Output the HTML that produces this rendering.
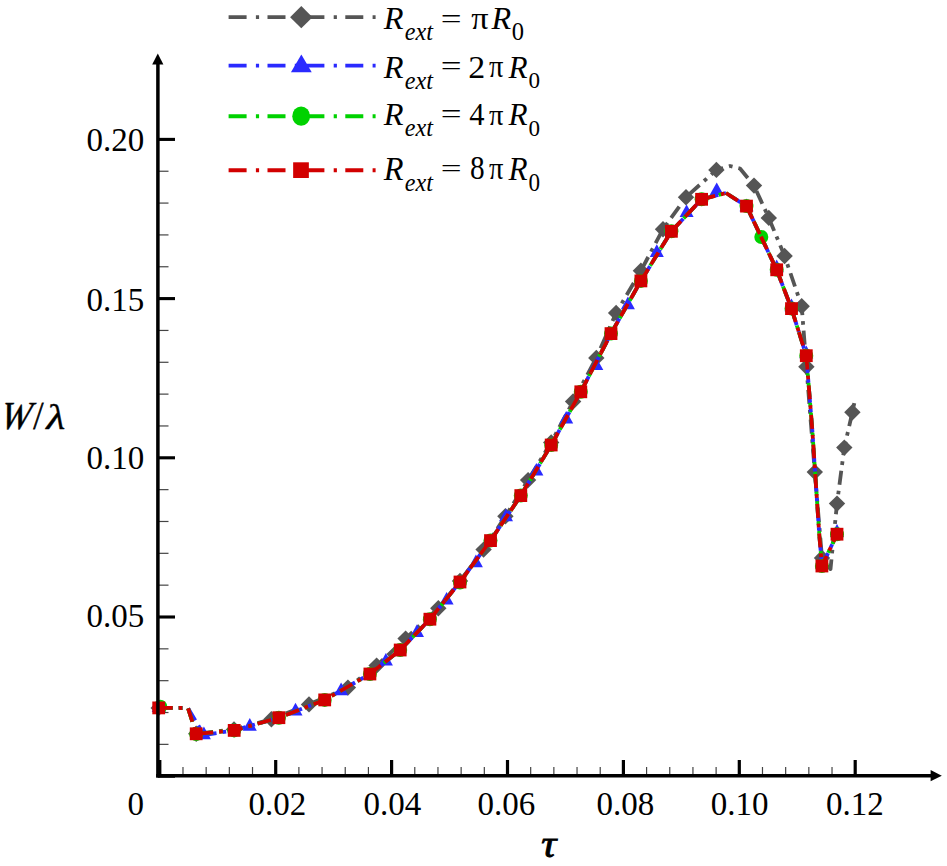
<!DOCTYPE html>
<html><head><meta charset="utf-8"><style>
html,body{margin:0;padding:0;background:#fff;}
body{width:947px;height:866px;overflow:hidden;}
svg{display:block;font-family:"Liberation Serif",serif;}
</style></head><body>
<svg width="947" height="866" viewBox="0 0 947 866">
<rect width="947" height="866" fill="#fff"/>
<g>
<line x1="157.9" y1="744.36" x2="168.5" y2="744.36" stroke="#444" stroke-width="1.2"/>
<line x1="157.9" y1="712.52" x2="168.5" y2="712.52" stroke="#444" stroke-width="1.2"/>
<line x1="157.9" y1="680.68" x2="168.5" y2="680.68" stroke="#444" stroke-width="1.2"/>
<line x1="157.9" y1="648.84" x2="168.5" y2="648.84" stroke="#444" stroke-width="1.2"/>
<line x1="157.9" y1="585.16" x2="168.5" y2="585.16" stroke="#444" stroke-width="1.2"/>
<line x1="157.9" y1="553.32" x2="168.5" y2="553.32" stroke="#444" stroke-width="1.2"/>
<line x1="157.9" y1="521.48" x2="168.5" y2="521.48" stroke="#444" stroke-width="1.2"/>
<line x1="157.9" y1="489.64" x2="168.5" y2="489.64" stroke="#444" stroke-width="1.2"/>
<line x1="157.9" y1="425.96" x2="168.5" y2="425.96" stroke="#444" stroke-width="1.2"/>
<line x1="157.9" y1="394.12" x2="168.5" y2="394.12" stroke="#444" stroke-width="1.2"/>
<line x1="157.9" y1="362.28" x2="168.5" y2="362.28" stroke="#444" stroke-width="1.2"/>
<line x1="157.9" y1="330.44" x2="168.5" y2="330.44" stroke="#444" stroke-width="1.2"/>
<line x1="157.9" y1="266.76" x2="168.5" y2="266.76" stroke="#444" stroke-width="1.2"/>
<line x1="157.9" y1="234.92" x2="168.5" y2="234.92" stroke="#444" stroke-width="1.2"/>
<line x1="157.9" y1="203.08" x2="168.5" y2="203.08" stroke="#444" stroke-width="1.2"/>
<line x1="157.9" y1="171.24" x2="168.5" y2="171.24" stroke="#444" stroke-width="1.2"/>
<line x1="157.9" y1="776.20" x2="175" y2="776.20" stroke="#000" stroke-width="3.1"/>
<line x1="157.9" y1="617.00" x2="175" y2="617.00" stroke="#000" stroke-width="3.1"/>
<line x1="157.9" y1="457.80" x2="175" y2="457.80" stroke="#000" stroke-width="3.1"/>
<line x1="157.9" y1="298.60" x2="175" y2="298.60" stroke="#000" stroke-width="3.1"/>
<line x1="157.9" y1="139.40" x2="175" y2="139.40" stroke="#000" stroke-width="3.1"/>
<line x1="182.98" y1="767" x2="182.98" y2="775.7" stroke="#444" stroke-width="1.2"/>
<line x1="206.16" y1="767" x2="206.16" y2="775.7" stroke="#444" stroke-width="1.2"/>
<line x1="229.34" y1="767" x2="229.34" y2="775.7" stroke="#444" stroke-width="1.2"/>
<line x1="252.52" y1="767" x2="252.52" y2="775.7" stroke="#444" stroke-width="1.2"/>
<line x1="298.88" y1="767" x2="298.88" y2="775.7" stroke="#444" stroke-width="1.2"/>
<line x1="322.06" y1="767" x2="322.06" y2="775.7" stroke="#444" stroke-width="1.2"/>
<line x1="345.24" y1="767" x2="345.24" y2="775.7" stroke="#444" stroke-width="1.2"/>
<line x1="368.42" y1="767" x2="368.42" y2="775.7" stroke="#444" stroke-width="1.2"/>
<line x1="414.78" y1="767" x2="414.78" y2="775.7" stroke="#444" stroke-width="1.2"/>
<line x1="437.96" y1="767" x2="437.96" y2="775.7" stroke="#444" stroke-width="1.2"/>
<line x1="461.14" y1="767" x2="461.14" y2="775.7" stroke="#444" stroke-width="1.2"/>
<line x1="484.32" y1="767" x2="484.32" y2="775.7" stroke="#444" stroke-width="1.2"/>
<line x1="530.68" y1="767" x2="530.68" y2="775.7" stroke="#444" stroke-width="1.2"/>
<line x1="553.86" y1="767" x2="553.86" y2="775.7" stroke="#444" stroke-width="1.2"/>
<line x1="577.04" y1="767" x2="577.04" y2="775.7" stroke="#444" stroke-width="1.2"/>
<line x1="600.22" y1="767" x2="600.22" y2="775.7" stroke="#444" stroke-width="1.2"/>
<line x1="646.58" y1="767" x2="646.58" y2="775.7" stroke="#444" stroke-width="1.2"/>
<line x1="669.76" y1="767" x2="669.76" y2="775.7" stroke="#444" stroke-width="1.2"/>
<line x1="692.94" y1="767" x2="692.94" y2="775.7" stroke="#444" stroke-width="1.2"/>
<line x1="716.12" y1="767" x2="716.12" y2="775.7" stroke="#444" stroke-width="1.2"/>
<line x1="762.48" y1="767" x2="762.48" y2="775.7" stroke="#444" stroke-width="1.2"/>
<line x1="785.66" y1="767" x2="785.66" y2="775.7" stroke="#444" stroke-width="1.2"/>
<line x1="808.84" y1="767" x2="808.84" y2="775.7" stroke="#444" stroke-width="1.2"/>
<line x1="832.02" y1="767" x2="832.02" y2="775.7" stroke="#444" stroke-width="1.2"/>
<line x1="159.80" y1="760" x2="159.80" y2="775.7" stroke="#000" stroke-width="3.2"/>
<line x1="275.70" y1="760" x2="275.70" y2="775.7" stroke="#000" stroke-width="3.2"/>
<line x1="391.60" y1="760" x2="391.60" y2="775.7" stroke="#000" stroke-width="3.2"/>
<line x1="507.50" y1="760" x2="507.50" y2="775.7" stroke="#000" stroke-width="3.2"/>
<line x1="623.40" y1="760" x2="623.40" y2="775.7" stroke="#000" stroke-width="3.2"/>
<line x1="739.30" y1="760" x2="739.30" y2="775.7" stroke="#000" stroke-width="3.2"/>
<line x1="855.20" y1="760" x2="855.20" y2="775.7" stroke="#000" stroke-width="3.2"/>
</g>
<g>
<polyline points="158.7,707.9 188.0,708.0 196.2,733.8 234.0,729.4 271.4,719.2 309.0,704.4 347.9,687.6 376.6,665.6 405.6,638.6" fill="none" stroke="#555555" stroke-width="3.8" stroke-dasharray="14 6 3.7 6" stroke-dashoffset="0.0" stroke-linejoin="round"/>
<polyline points="405.6,638.6 438.3,608.2 460.0,581.0 483.6,549.6 505.4,516.3 528.1,480.1 551.2,442.5 573.1,401.5 596.3,357.9 616.1,312.9 640.9,270.8 663.0,229.2 686.0,197.2 716.4,169.9 730.0,166.0 740.0,168.5 754.0,185.6 768.8,217.9 784.6,256.0 801.7,306.2 806.4,366.7 814.8,472.1 822.0,558.0 830.5,569.0 837.0,503.6 844.3,447.6 852.4,412.2 854.6,401.5" fill="none" stroke="#555555" stroke-width="3.8" stroke-dasharray="14 6 3.7 6" stroke-dashoffset="301.6" stroke-linejoin="round"/>
<polygon points="158.70,699.70 166.90,707.90 158.70,716.10 150.50,707.90" fill="#555555"/>
<polygon points="196.20,725.60 204.40,733.80 196.20,742.00 188.00,733.80" fill="#555555"/>
<polygon points="234.00,721.20 242.20,729.40 234.00,737.60 225.80,729.40" fill="#555555"/>
<polygon points="271.40,711.00 279.60,719.20 271.40,727.40 263.20,719.20" fill="#555555"/>
<polygon points="309.00,696.20 317.20,704.40 309.00,712.60 300.80,704.40" fill="#555555"/>
<polygon points="347.90,679.40 356.10,687.60 347.90,695.80 339.70,687.60" fill="#555555"/>
<polygon points="376.60,657.40 384.80,665.60 376.60,673.80 368.40,665.60" fill="#555555"/>
<polygon points="405.60,630.40 413.80,638.60 405.60,646.80 397.40,638.60" fill="#555555"/>
<polygon points="438.30,600.00 446.50,608.20 438.30,616.40 430.10,608.20" fill="#555555"/>
<polygon points="460.00,572.80 468.20,581.00 460.00,589.20 451.80,581.00" fill="#555555"/>
<polygon points="483.60,541.40 491.80,549.60 483.60,557.80 475.40,549.60" fill="#555555"/>
<polygon points="505.40,508.10 513.60,516.30 505.40,524.50 497.20,516.30" fill="#555555"/>
<polygon points="528.10,471.90 536.30,480.10 528.10,488.30 519.90,480.10" fill="#555555"/>
<polygon points="551.20,434.30 559.40,442.50 551.20,450.70 543.00,442.50" fill="#555555"/>
<polygon points="573.10,393.30 581.30,401.50 573.10,409.70 564.90,401.50" fill="#555555"/>
<polygon points="596.30,349.70 604.50,357.90 596.30,366.10 588.10,357.90" fill="#555555"/>
<polygon points="616.10,304.70 624.30,312.90 616.10,321.10 607.90,312.90" fill="#555555"/>
<polygon points="640.90,262.60 649.10,270.80 640.90,279.00 632.70,270.80" fill="#555555"/>
<polygon points="663.00,221.00 671.20,229.20 663.00,237.40 654.80,229.20" fill="#555555"/>
<polygon points="686.00,189.00 694.20,197.20 686.00,205.40 677.80,197.20" fill="#555555"/>
<polygon points="716.40,161.70 724.60,169.90 716.40,178.10 708.20,169.90" fill="#555555"/>
<polygon points="754.00,177.40 762.20,185.60 754.00,193.80 745.80,185.60" fill="#555555"/>
<polygon points="768.80,209.70 777.00,217.90 768.80,226.10 760.60,217.90" fill="#555555"/>
<polygon points="784.60,247.80 792.80,256.00 784.60,264.20 776.40,256.00" fill="#555555"/>
<polygon points="801.70,298.00 809.90,306.20 801.70,314.40 793.50,306.20" fill="#555555"/>
<polygon points="806.40,358.50 814.60,366.70 806.40,374.90 798.20,366.70" fill="#555555"/>
<polygon points="814.80,463.90 823.00,472.10 814.80,480.30 806.60,472.10" fill="#555555"/>
<polygon points="822.00,549.80 830.20,558.00 822.00,566.20 813.80,558.00" fill="#555555"/>
<polygon points="837.00,495.40 845.20,503.60 837.00,511.80 828.80,503.60" fill="#555555"/>
<polygon points="844.30,439.40 852.50,447.60 844.30,455.80 836.10,447.60" fill="#555555"/>
<polygon points="852.40,404.00 860.60,412.20 852.40,420.40 844.20,412.20" fill="#555555"/>
<line x1="158.70" y1="707.90" x2="188.00" y2="708.00" stroke="#2a2aff" stroke-width="3.8" stroke-dasharray="14 6 3.7 6" stroke-dashoffset="0.00"/>
<line x1="188.00" y1="708.00" x2="203.90" y2="735.00" stroke="#2a2aff" stroke-width="3.8" stroke-dasharray="14 6 3.7 6" stroke-dashoffset="29.30"/>
<line x1="203.90" y1="735.00" x2="234.20" y2="730.40" stroke="#2a2aff" stroke-width="3.8" stroke-dasharray="14 6 3.7 6" stroke-dashoffset="60.63"/>
<line x1="234.20" y1="730.40" x2="278.90" y2="717.70" stroke="#2a2aff" stroke-width="3.8" stroke-dasharray="14 6 3.7 6" stroke-dashoffset="91.28"/>
<line x1="278.90" y1="717.70" x2="324.70" y2="699.90" stroke="#2a2aff" stroke-width="3.8" stroke-dasharray="14 6 3.7 6" stroke-dashoffset="137.75"/>
<line x1="324.70" y1="699.90" x2="369.90" y2="674.00" stroke="#2a2aff" stroke-width="3.8" stroke-dasharray="14 6 3.7 6" stroke-dashoffset="186.89"/>
<line x1="369.90" y1="674.00" x2="385.05" y2="662.00" stroke="#2a2aff" stroke-width="3.8" stroke-dasharray="14 6 3.7 6" stroke-dashoffset="-3.30"/>
<line x1="385.05" y1="662.00" x2="400.20" y2="650.00" stroke="#2a2aff" stroke-width="3.8" stroke-dasharray="14 6 3.7 6" stroke-dashoffset="-3.30"/>
<line x1="400.20" y1="650.00" x2="415.05" y2="634.60" stroke="#2a2aff" stroke-width="3.8" stroke-dasharray="14 6 3.7 6" stroke-dashoffset="-3.30"/>
<line x1="415.05" y1="634.60" x2="429.90" y2="619.20" stroke="#2a2aff" stroke-width="3.8" stroke-dasharray="14 6 3.7 6" stroke-dashoffset="-3.30"/>
<line x1="429.90" y1="619.20" x2="444.95" y2="600.60" stroke="#2a2aff" stroke-width="3.8" stroke-dasharray="14 6 3.7 6" stroke-dashoffset="-3.30"/>
<line x1="444.95" y1="600.60" x2="460.00" y2="582.00" stroke="#2a2aff" stroke-width="3.8" stroke-dasharray="14 6 3.7 6" stroke-dashoffset="-3.30"/>
<line x1="460.00" y1="582.00" x2="470.17" y2="568.20" stroke="#2a2aff" stroke-width="3.8" stroke-dasharray="14 6 3.7 6" stroke-dashoffset="-3.30"/>
<line x1="470.17" y1="568.20" x2="480.33" y2="554.40" stroke="#2a2aff" stroke-width="3.8" stroke-dasharray="14 6 3.7 6" stroke-dashoffset="-3.30"/>
<line x1="480.33" y1="554.40" x2="490.50" y2="540.60" stroke="#2a2aff" stroke-width="3.8" stroke-dasharray="14 6 3.7 6" stroke-dashoffset="-3.30"/>
<line x1="490.50" y1="540.60" x2="500.60" y2="525.60" stroke="#2a2aff" stroke-width="3.8" stroke-dasharray="14 6 3.7 6" stroke-dashoffset="-3.30"/>
<line x1="500.60" y1="525.60" x2="510.70" y2="510.60" stroke="#2a2aff" stroke-width="3.8" stroke-dasharray="14 6 3.7 6" stroke-dashoffset="-3.30"/>
<line x1="510.70" y1="510.60" x2="520.80" y2="495.60" stroke="#2a2aff" stroke-width="3.8" stroke-dasharray="14 6 3.7 6" stroke-dashoffset="-3.30"/>
<line x1="520.80" y1="495.60" x2="530.93" y2="478.73" stroke="#2a2aff" stroke-width="3.8" stroke-dasharray="14 6 3.7 6" stroke-dashoffset="-3.30"/>
<line x1="530.93" y1="478.73" x2="541.07" y2="461.87" stroke="#2a2aff" stroke-width="3.8" stroke-dasharray="14 6 3.7 6" stroke-dashoffset="-3.30"/>
<line x1="541.07" y1="461.87" x2="551.20" y2="445.00" stroke="#2a2aff" stroke-width="3.8" stroke-dasharray="14 6 3.7 6" stroke-dashoffset="-3.30"/>
<line x1="551.20" y1="445.00" x2="561.07" y2="427.27" stroke="#2a2aff" stroke-width="3.8" stroke-dasharray="14 6 3.7 6" stroke-dashoffset="-3.30"/>
<line x1="561.07" y1="427.27" x2="570.93" y2="409.53" stroke="#2a2aff" stroke-width="3.8" stroke-dasharray="14 6 3.7 6" stroke-dashoffset="-3.30"/>
<line x1="570.93" y1="409.53" x2="580.80" y2="391.80" stroke="#2a2aff" stroke-width="3.8" stroke-dasharray="14 6 3.7 6" stroke-dashoffset="-3.30"/>
<line x1="580.80" y1="391.80" x2="590.87" y2="372.40" stroke="#2a2aff" stroke-width="3.8" stroke-dasharray="14 6 3.7 6" stroke-dashoffset="-3.30"/>
<line x1="590.87" y1="372.40" x2="600.93" y2="353.00" stroke="#2a2aff" stroke-width="3.8" stroke-dasharray="14 6 3.7 6" stroke-dashoffset="-3.30"/>
<line x1="600.93" y1="353.00" x2="611.00" y2="333.60" stroke="#2a2aff" stroke-width="3.8" stroke-dasharray="14 6 3.7 6" stroke-dashoffset="-3.30"/>
<line x1="611.00" y1="333.60" x2="620.97" y2="316.03" stroke="#2a2aff" stroke-width="3.8" stroke-dasharray="14 6 3.7 6" stroke-dashoffset="-3.30"/>
<line x1="620.97" y1="316.03" x2="630.93" y2="298.47" stroke="#2a2aff" stroke-width="3.8" stroke-dasharray="14 6 3.7 6" stroke-dashoffset="-3.30"/>
<line x1="630.93" y1="298.47" x2="640.90" y2="280.90" stroke="#2a2aff" stroke-width="3.8" stroke-dasharray="14 6 3.7 6" stroke-dashoffset="-3.30"/>
<line x1="640.90" y1="280.90" x2="651.07" y2="264.37" stroke="#2a2aff" stroke-width="3.8" stroke-dasharray="14 6 3.7 6" stroke-dashoffset="-3.30"/>
<line x1="651.07" y1="264.37" x2="661.23" y2="247.83" stroke="#2a2aff" stroke-width="3.8" stroke-dasharray="14 6 3.7 6" stroke-dashoffset="-3.30"/>
<line x1="661.23" y1="247.83" x2="671.40" y2="231.30" stroke="#2a2aff" stroke-width="3.8" stroke-dasharray="14 6 3.7 6" stroke-dashoffset="-3.30"/>
<line x1="671.40" y1="231.30" x2="686.50" y2="215.30" stroke="#2a2aff" stroke-width="3.8" stroke-dasharray="14 6 3.7 6" stroke-dashoffset="-3.30"/>
<line x1="686.50" y1="215.30" x2="701.60" y2="199.30" stroke="#2a2aff" stroke-width="3.8" stroke-dasharray="14 6 3.7 6" stroke-dashoffset="-3.30"/>
<line x1="701.60" y1="199.30" x2="726.00" y2="193.00" stroke="#2a2aff" stroke-width="3.8" stroke-dasharray="14 6 3.7 6" stroke-dashoffset="-3.30"/>
<line x1="726.00" y1="193.00" x2="746.50" y2="206.10" stroke="#2a2aff" stroke-width="3.8" stroke-dasharray="14 6 3.7 6" stroke-dashoffset="-3.30"/>
<line x1="746.50" y1="206.10" x2="753.75" y2="221.35" stroke="#2a2aff" stroke-width="3.8" stroke-dasharray="14 6 3.7 6" stroke-dashoffset="-3.30"/>
<line x1="753.75" y1="221.35" x2="761.00" y2="236.60" stroke="#2a2aff" stroke-width="3.8" stroke-dasharray="14 6 3.7 6" stroke-dashoffset="-3.30"/>
<line x1="761.00" y1="236.60" x2="768.85" y2="253.20" stroke="#2a2aff" stroke-width="3.8" stroke-dasharray="14 6 3.7 6" stroke-dashoffset="-3.30"/>
<line x1="768.85" y1="253.20" x2="776.70" y2="269.80" stroke="#2a2aff" stroke-width="3.8" stroke-dasharray="14 6 3.7 6" stroke-dashoffset="-3.30"/>
<line x1="776.70" y1="269.80" x2="784.10" y2="289.20" stroke="#2a2aff" stroke-width="3.8" stroke-dasharray="14 6 3.7 6" stroke-dashoffset="-3.30"/>
<line x1="784.10" y1="289.20" x2="791.50" y2="308.60" stroke="#2a2aff" stroke-width="3.8" stroke-dasharray="14 6 3.7 6" stroke-dashoffset="-3.30"/>
<line x1="791.50" y1="308.60" x2="798.90" y2="332.15" stroke="#2a2aff" stroke-width="3.8" stroke-dasharray="14 6 3.7 6" stroke-dashoffset="-3.30"/>
<line x1="798.90" y1="332.15" x2="806.30" y2="355.70" stroke="#2a2aff" stroke-width="3.8" stroke-dasharray="14 6 3.7 6" stroke-dashoffset="-3.30"/>
<line x1="806.30" y1="355.70" x2="812.30" y2="430.00" stroke="#2a2aff" stroke-width="3.8" stroke-dasharray="14 6 3.7 6" stroke-dashoffset="-3.30"/>
<line x1="812.30" y1="430.00" x2="815.10" y2="472.00" stroke="#2a2aff" stroke-width="3.8" stroke-dasharray="14 6 3.7 6" stroke-dashoffset="71.24"/>
<line x1="815.10" y1="472.00" x2="819.20" y2="533.50" stroke="#2a2aff" stroke-width="3.8" stroke-dasharray="14 6 3.7 6" stroke-dashoffset="113.34"/>
<line x1="819.20" y1="533.50" x2="821.90" y2="566.00" stroke="#2a2aff" stroke-width="3.8" stroke-dasharray="14 6 3.7 6" stroke-dashoffset="174.97"/>
<line x1="821.90" y1="566.00" x2="837.00" y2="534.20" stroke="#2a2aff" stroke-width="3.8" stroke-dasharray="14 6 3.7 6" stroke-dashoffset="207.58"/>
<polygon points="158.70,699.50 165.70,712.10 151.70,712.10" fill="#2a2aff"/>
<polygon points="203.90,726.60 210.90,739.20 196.90,739.20" fill="#2a2aff"/>
<polygon points="249.80,718.10 256.80,730.70 242.80,730.70" fill="#2a2aff"/>
<polygon points="295.50,702.80 302.50,715.40 288.50,715.40" fill="#2a2aff"/>
<polygon points="341.10,682.60 348.10,695.20 334.10,695.20" fill="#2a2aff"/>
<polygon points="385.90,653.00 392.90,665.60 378.90,665.60" fill="#2a2aff"/>
<polygon points="417.00,624.30 424.00,636.90 410.00,636.90" fill="#2a2aff"/>
<polygon points="446.60,592.00 453.60,604.60 439.60,604.60" fill="#2a2aff"/>
<polygon points="475.90,554.60 482.90,567.20 468.90,567.20" fill="#2a2aff"/>
<polygon points="506.00,508.60 513.00,521.20 499.00,521.20" fill="#2a2aff"/>
<polygon points="536.40,462.90 543.40,475.50 529.40,475.50" fill="#2a2aff"/>
<polygon points="566.20,411.00 573.20,423.60 559.20,423.60" fill="#2a2aff"/>
<polygon points="596.30,357.40 603.30,370.00 589.30,370.00" fill="#2a2aff"/>
<polygon points="627.90,296.60 634.90,309.20 620.90,309.20" fill="#2a2aff"/>
<polygon points="656.80,244.30 663.80,256.90 649.80,256.90" fill="#2a2aff"/>
<polygon points="686.60,204.40 693.60,217.00 679.60,217.00" fill="#2a2aff"/>
<polygon points="716.70,182.50 723.70,195.10 709.70,195.10" fill="#2a2aff"/>
<polygon points="746.50,198.60 753.50,211.20 739.50,211.20" fill="#2a2aff"/>
<polygon points="776.70,259.60 783.70,272.20 769.70,272.20" fill="#2a2aff"/>
<polygon points="791.50,298.60 798.50,311.20 784.50,311.20" fill="#2a2aff"/>
<polygon points="806.30,345.60 813.30,358.20 799.30,358.20" fill="#2a2aff"/>
<polygon points="821.90,555.60 828.90,568.20 814.90,568.20" fill="#2a2aff"/>
<polygon points="837.00,524.10 844.00,536.70 830.00,536.70" fill="#2a2aff"/>
<line x1="158.70" y1="707.90" x2="188.00" y2="708.00" stroke="#00d200" stroke-width="3.8" stroke-dasharray="14 6 3.7 6" stroke-dashoffset="0.00"/>
<line x1="188.00" y1="708.00" x2="196.20" y2="733.80" stroke="#00d200" stroke-width="3.8" stroke-dasharray="14 6 3.7 6" stroke-dashoffset="29.30"/>
<line x1="196.20" y1="733.80" x2="234.20" y2="730.40" stroke="#00d200" stroke-width="3.8" stroke-dasharray="14 6 3.7 6" stroke-dashoffset="56.37"/>
<line x1="234.20" y1="730.40" x2="278.90" y2="717.70" stroke="#00d200" stroke-width="3.8" stroke-dasharray="14 6 3.7 6" stroke-dashoffset="94.52"/>
<line x1="278.90" y1="717.70" x2="324.70" y2="699.90" stroke="#00d200" stroke-width="3.8" stroke-dasharray="14 6 3.7 6" stroke-dashoffset="140.99"/>
<line x1="324.70" y1="699.90" x2="369.90" y2="674.00" stroke="#00d200" stroke-width="3.8" stroke-dasharray="14 6 3.7 6" stroke-dashoffset="190.13"/>
<line x1="369.90" y1="674.00" x2="385.05" y2="662.00" stroke="#00d200" stroke-width="3.8" stroke-dasharray="14 6 3.7 6" stroke-dashoffset="2.30"/>
<line x1="385.05" y1="662.00" x2="400.20" y2="650.00" stroke="#00d200" stroke-width="3.8" stroke-dasharray="14 6 3.7 6" stroke-dashoffset="2.30"/>
<line x1="400.20" y1="650.00" x2="415.05" y2="634.60" stroke="#00d200" stroke-width="3.8" stroke-dasharray="14 6 3.7 6" stroke-dashoffset="2.30"/>
<line x1="415.05" y1="634.60" x2="429.90" y2="619.20" stroke="#00d200" stroke-width="3.8" stroke-dasharray="14 6 3.7 6" stroke-dashoffset="2.30"/>
<line x1="429.90" y1="619.20" x2="444.95" y2="600.60" stroke="#00d200" stroke-width="3.8" stroke-dasharray="14 6 3.7 6" stroke-dashoffset="2.30"/>
<line x1="444.95" y1="600.60" x2="460.00" y2="582.00" stroke="#00d200" stroke-width="3.8" stroke-dasharray="14 6 3.7 6" stroke-dashoffset="2.30"/>
<line x1="460.00" y1="582.00" x2="470.17" y2="568.20" stroke="#00d200" stroke-width="3.8" stroke-dasharray="14 6 3.7 6" stroke-dashoffset="2.30"/>
<line x1="470.17" y1="568.20" x2="480.33" y2="554.40" stroke="#00d200" stroke-width="3.8" stroke-dasharray="14 6 3.7 6" stroke-dashoffset="2.30"/>
<line x1="480.33" y1="554.40" x2="490.50" y2="540.60" stroke="#00d200" stroke-width="3.8" stroke-dasharray="14 6 3.7 6" stroke-dashoffset="2.30"/>
<line x1="490.50" y1="540.60" x2="500.60" y2="525.60" stroke="#00d200" stroke-width="3.8" stroke-dasharray="14 6 3.7 6" stroke-dashoffset="2.30"/>
<line x1="500.60" y1="525.60" x2="510.70" y2="510.60" stroke="#00d200" stroke-width="3.8" stroke-dasharray="14 6 3.7 6" stroke-dashoffset="2.30"/>
<line x1="510.70" y1="510.60" x2="520.80" y2="495.60" stroke="#00d200" stroke-width="3.8" stroke-dasharray="14 6 3.7 6" stroke-dashoffset="2.30"/>
<line x1="520.80" y1="495.60" x2="530.93" y2="478.73" stroke="#00d200" stroke-width="3.8" stroke-dasharray="14 6 3.7 6" stroke-dashoffset="2.30"/>
<line x1="530.93" y1="478.73" x2="541.07" y2="461.87" stroke="#00d200" stroke-width="3.8" stroke-dasharray="14 6 3.7 6" stroke-dashoffset="2.30"/>
<line x1="541.07" y1="461.87" x2="551.20" y2="445.00" stroke="#00d200" stroke-width="3.8" stroke-dasharray="14 6 3.7 6" stroke-dashoffset="2.30"/>
<line x1="551.20" y1="445.00" x2="561.07" y2="427.27" stroke="#00d200" stroke-width="3.8" stroke-dasharray="14 6 3.7 6" stroke-dashoffset="2.30"/>
<line x1="561.07" y1="427.27" x2="570.93" y2="409.53" stroke="#00d200" stroke-width="3.8" stroke-dasharray="14 6 3.7 6" stroke-dashoffset="2.30"/>
<line x1="570.93" y1="409.53" x2="580.80" y2="391.80" stroke="#00d200" stroke-width="3.8" stroke-dasharray="14 6 3.7 6" stroke-dashoffset="2.30"/>
<line x1="580.80" y1="391.80" x2="590.87" y2="372.40" stroke="#00d200" stroke-width="3.8" stroke-dasharray="14 6 3.7 6" stroke-dashoffset="2.30"/>
<line x1="590.87" y1="372.40" x2="600.93" y2="353.00" stroke="#00d200" stroke-width="3.8" stroke-dasharray="14 6 3.7 6" stroke-dashoffset="2.30"/>
<line x1="600.93" y1="353.00" x2="611.00" y2="333.60" stroke="#00d200" stroke-width="3.8" stroke-dasharray="14 6 3.7 6" stroke-dashoffset="2.30"/>
<line x1="611.00" y1="333.60" x2="620.97" y2="316.03" stroke="#00d200" stroke-width="3.8" stroke-dasharray="14 6 3.7 6" stroke-dashoffset="2.30"/>
<line x1="620.97" y1="316.03" x2="630.93" y2="298.47" stroke="#00d200" stroke-width="3.8" stroke-dasharray="14 6 3.7 6" stroke-dashoffset="2.30"/>
<line x1="630.93" y1="298.47" x2="640.90" y2="280.90" stroke="#00d200" stroke-width="3.8" stroke-dasharray="14 6 3.7 6" stroke-dashoffset="2.30"/>
<line x1="640.90" y1="280.90" x2="651.07" y2="264.37" stroke="#00d200" stroke-width="3.8" stroke-dasharray="14 6 3.7 6" stroke-dashoffset="2.30"/>
<line x1="651.07" y1="264.37" x2="661.23" y2="247.83" stroke="#00d200" stroke-width="3.8" stroke-dasharray="14 6 3.7 6" stroke-dashoffset="2.30"/>
<line x1="661.23" y1="247.83" x2="671.40" y2="231.30" stroke="#00d200" stroke-width="3.8" stroke-dasharray="14 6 3.7 6" stroke-dashoffset="2.30"/>
<line x1="671.40" y1="231.30" x2="686.50" y2="215.30" stroke="#00d200" stroke-width="3.8" stroke-dasharray="14 6 3.7 6" stroke-dashoffset="2.30"/>
<line x1="686.50" y1="215.30" x2="701.60" y2="199.30" stroke="#00d200" stroke-width="3.8" stroke-dasharray="14 6 3.7 6" stroke-dashoffset="2.30"/>
<line x1="701.60" y1="199.30" x2="726.00" y2="193.00" stroke="#00d200" stroke-width="3.8" stroke-dasharray="14 6 3.7 6" stroke-dashoffset="2.30"/>
<line x1="726.00" y1="193.00" x2="746.50" y2="206.10" stroke="#00d200" stroke-width="3.8" stroke-dasharray="14 6 3.7 6" stroke-dashoffset="2.30"/>
<line x1="746.50" y1="206.10" x2="753.75" y2="221.35" stroke="#00d200" stroke-width="3.8" stroke-dasharray="14 6 3.7 6" stroke-dashoffset="2.30"/>
<line x1="753.75" y1="221.35" x2="761.00" y2="236.60" stroke="#00d200" stroke-width="3.8" stroke-dasharray="14 6 3.7 6" stroke-dashoffset="2.30"/>
<line x1="761.00" y1="236.60" x2="768.85" y2="253.20" stroke="#00d200" stroke-width="3.8" stroke-dasharray="14 6 3.7 6" stroke-dashoffset="2.30"/>
<line x1="768.85" y1="253.20" x2="776.70" y2="269.80" stroke="#00d200" stroke-width="3.8" stroke-dasharray="14 6 3.7 6" stroke-dashoffset="2.30"/>
<line x1="776.70" y1="269.80" x2="784.10" y2="289.20" stroke="#00d200" stroke-width="3.8" stroke-dasharray="14 6 3.7 6" stroke-dashoffset="2.30"/>
<line x1="784.10" y1="289.20" x2="791.50" y2="308.60" stroke="#00d200" stroke-width="3.8" stroke-dasharray="14 6 3.7 6" stroke-dashoffset="2.30"/>
<line x1="791.50" y1="308.60" x2="798.90" y2="332.15" stroke="#00d200" stroke-width="3.8" stroke-dasharray="14 6 3.7 6" stroke-dashoffset="2.30"/>
<line x1="798.90" y1="332.15" x2="806.30" y2="355.70" stroke="#00d200" stroke-width="3.8" stroke-dasharray="14 6 3.7 6" stroke-dashoffset="2.30"/>
<line x1="806.30" y1="355.70" x2="812.30" y2="430.00" stroke="#00d200" stroke-width="3.8" stroke-dasharray="14 6 3.7 6" stroke-dashoffset="2.30"/>
<line x1="812.30" y1="430.00" x2="815.10" y2="472.00" stroke="#00d200" stroke-width="3.8" stroke-dasharray="14 6 3.7 6" stroke-dashoffset="76.84"/>
<line x1="815.10" y1="472.00" x2="819.20" y2="533.50" stroke="#00d200" stroke-width="3.8" stroke-dasharray="14 6 3.7 6" stroke-dashoffset="118.94"/>
<line x1="819.20" y1="533.50" x2="821.90" y2="566.00" stroke="#00d200" stroke-width="3.8" stroke-dasharray="14 6 3.7 6" stroke-dashoffset="180.57"/>
<line x1="821.90" y1="566.00" x2="837.00" y2="534.20" stroke="#00d200" stroke-width="3.8" stroke-dasharray="14 6 3.7 6" stroke-dashoffset="213.18"/>
<circle cx="160.30" cy="706.80" r="7.00" fill="#00d200"/>
<circle cx="196.20" cy="734.00" r="7.00" fill="#00d200"/>
<circle cx="234.20" cy="730.40" r="7.00" fill="#00d200"/>
<circle cx="278.90" cy="717.70" r="7.00" fill="#00d200"/>
<circle cx="324.70" cy="699.90" r="7.00" fill="#00d200"/>
<circle cx="369.90" cy="674.00" r="7.00" fill="#00d200"/>
<circle cx="400.20" cy="650.00" r="7.00" fill="#00d200"/>
<circle cx="429.90" cy="619.20" r="7.00" fill="#00d200"/>
<circle cx="460.00" cy="582.50" r="7.00" fill="#00d200"/>
<circle cx="490.50" cy="540.60" r="7.00" fill="#00d200"/>
<circle cx="520.80" cy="495.60" r="7.00" fill="#00d200"/>
<circle cx="551.20" cy="445.00" r="7.00" fill="#00d200"/>
<circle cx="580.80" cy="391.80" r="7.00" fill="#00d200"/>
<circle cx="611.00" cy="333.60" r="7.00" fill="#00d200"/>
<circle cx="640.90" cy="280.90" r="7.00" fill="#00d200"/>
<circle cx="671.40" cy="231.30" r="7.00" fill="#00d200"/>
<circle cx="701.60" cy="199.30" r="7.00" fill="#00d200"/>
<circle cx="746.50" cy="206.10" r="7.00" fill="#00d200"/>
<circle cx="761.30" cy="237.00" r="7.00" fill="#00d200"/>
<circle cx="776.70" cy="269.80" r="7.00" fill="#00d200"/>
<circle cx="791.50" cy="308.60" r="7.00" fill="#00d200"/>
<circle cx="806.30" cy="355.70" r="7.00" fill="#00d200"/>
<circle cx="821.90" cy="566.00" r="7.00" fill="#00d200"/>
<circle cx="837.00" cy="534.20" r="7.00" fill="#00d200"/>
<line x1="158.70" y1="707.90" x2="188.00" y2="708.00" stroke="#d20000" stroke-width="3.8" stroke-dasharray="14 6 3.7 6" stroke-dashoffset="0.00"/>
<line x1="188.00" y1="708.00" x2="196.20" y2="733.80" stroke="#d20000" stroke-width="3.8" stroke-dasharray="14 6 3.7 6" stroke-dashoffset="29.30"/>
<line x1="196.20" y1="733.80" x2="234.20" y2="730.40" stroke="#d20000" stroke-width="3.8" stroke-dasharray="14 6 3.7 6" stroke-dashoffset="56.37"/>
<line x1="234.20" y1="730.40" x2="278.90" y2="717.70" stroke="#d20000" stroke-width="3.8" stroke-dasharray="14 6 3.7 6" stroke-dashoffset="94.52"/>
<line x1="278.90" y1="717.70" x2="324.70" y2="699.90" stroke="#d20000" stroke-width="3.8" stroke-dasharray="14 6 3.7 6" stroke-dashoffset="140.99"/>
<line x1="324.70" y1="699.90" x2="369.90" y2="674.00" stroke="#d20000" stroke-width="3.8" stroke-dasharray="14 6 3.7 6" stroke-dashoffset="190.13"/>
<line x1="369.90" y1="674.00" x2="385.05" y2="662.00" stroke="#d20000" stroke-width="3.8" stroke-dasharray="14 6 3.7 6" stroke-dashoffset="0.00"/>
<line x1="385.05" y1="662.00" x2="400.20" y2="650.00" stroke="#d20000" stroke-width="3.8" stroke-dasharray="14 6 3.7 6" stroke-dashoffset="0.00"/>
<line x1="400.20" y1="650.00" x2="415.05" y2="634.60" stroke="#d20000" stroke-width="3.8" stroke-dasharray="14 6 3.7 6" stroke-dashoffset="0.00"/>
<line x1="415.05" y1="634.60" x2="429.90" y2="619.20" stroke="#d20000" stroke-width="3.8" stroke-dasharray="14 6 3.7 6" stroke-dashoffset="0.00"/>
<line x1="429.90" y1="619.20" x2="444.95" y2="600.60" stroke="#d20000" stroke-width="3.8" stroke-dasharray="14 6 3.7 6" stroke-dashoffset="0.00"/>
<line x1="444.95" y1="600.60" x2="460.00" y2="582.00" stroke="#d20000" stroke-width="3.8" stroke-dasharray="14 6 3.7 6" stroke-dashoffset="0.00"/>
<line x1="460.00" y1="582.00" x2="470.17" y2="568.20" stroke="#d20000" stroke-width="3.8" stroke-dasharray="14 6 3.7 6" stroke-dashoffset="0.00"/>
<line x1="470.17" y1="568.20" x2="480.33" y2="554.40" stroke="#d20000" stroke-width="3.8" stroke-dasharray="14 6 3.7 6" stroke-dashoffset="0.00"/>
<line x1="480.33" y1="554.40" x2="490.50" y2="540.60" stroke="#d20000" stroke-width="3.8" stroke-dasharray="14 6 3.7 6" stroke-dashoffset="0.00"/>
<line x1="490.50" y1="540.60" x2="500.60" y2="525.60" stroke="#d20000" stroke-width="3.8" stroke-dasharray="14 6 3.7 6" stroke-dashoffset="0.00"/>
<line x1="500.60" y1="525.60" x2="510.70" y2="510.60" stroke="#d20000" stroke-width="3.8" stroke-dasharray="14 6 3.7 6" stroke-dashoffset="0.00"/>
<line x1="510.70" y1="510.60" x2="520.80" y2="495.60" stroke="#d20000" stroke-width="3.8" stroke-dasharray="14 6 3.7 6" stroke-dashoffset="0.00"/>
<line x1="520.80" y1="495.60" x2="530.93" y2="478.73" stroke="#d20000" stroke-width="3.8" stroke-dasharray="14 6 3.7 6" stroke-dashoffset="0.00"/>
<line x1="530.93" y1="478.73" x2="541.07" y2="461.87" stroke="#d20000" stroke-width="3.8" stroke-dasharray="14 6 3.7 6" stroke-dashoffset="0.00"/>
<line x1="541.07" y1="461.87" x2="551.20" y2="445.00" stroke="#d20000" stroke-width="3.8" stroke-dasharray="14 6 3.7 6" stroke-dashoffset="0.00"/>
<line x1="551.20" y1="445.00" x2="561.07" y2="427.27" stroke="#d20000" stroke-width="3.8" stroke-dasharray="14 6 3.7 6" stroke-dashoffset="0.00"/>
<line x1="561.07" y1="427.27" x2="570.93" y2="409.53" stroke="#d20000" stroke-width="3.8" stroke-dasharray="14 6 3.7 6" stroke-dashoffset="0.00"/>
<line x1="570.93" y1="409.53" x2="580.80" y2="391.80" stroke="#d20000" stroke-width="3.8" stroke-dasharray="14 6 3.7 6" stroke-dashoffset="0.00"/>
<line x1="580.80" y1="391.80" x2="590.87" y2="372.40" stroke="#d20000" stroke-width="3.8" stroke-dasharray="14 6 3.7 6" stroke-dashoffset="0.00"/>
<line x1="590.87" y1="372.40" x2="600.93" y2="353.00" stroke="#d20000" stroke-width="3.8" stroke-dasharray="14 6 3.7 6" stroke-dashoffset="0.00"/>
<line x1="600.93" y1="353.00" x2="611.00" y2="333.60" stroke="#d20000" stroke-width="3.8" stroke-dasharray="14 6 3.7 6" stroke-dashoffset="0.00"/>
<line x1="611.00" y1="333.60" x2="620.97" y2="316.03" stroke="#d20000" stroke-width="3.8" stroke-dasharray="14 6 3.7 6" stroke-dashoffset="0.00"/>
<line x1="620.97" y1="316.03" x2="630.93" y2="298.47" stroke="#d20000" stroke-width="3.8" stroke-dasharray="14 6 3.7 6" stroke-dashoffset="0.00"/>
<line x1="630.93" y1="298.47" x2="640.90" y2="280.90" stroke="#d20000" stroke-width="3.8" stroke-dasharray="14 6 3.7 6" stroke-dashoffset="0.00"/>
<line x1="640.90" y1="280.90" x2="651.07" y2="264.37" stroke="#d20000" stroke-width="3.8" stroke-dasharray="14 6 3.7 6" stroke-dashoffset="0.00"/>
<line x1="651.07" y1="264.37" x2="661.23" y2="247.83" stroke="#d20000" stroke-width="3.8" stroke-dasharray="14 6 3.7 6" stroke-dashoffset="0.00"/>
<line x1="661.23" y1="247.83" x2="671.40" y2="231.30" stroke="#d20000" stroke-width="3.8" stroke-dasharray="14 6 3.7 6" stroke-dashoffset="0.00"/>
<line x1="671.40" y1="231.30" x2="686.50" y2="215.30" stroke="#d20000" stroke-width="3.8" stroke-dasharray="14 6 3.7 6" stroke-dashoffset="0.00"/>
<line x1="686.50" y1="215.30" x2="701.60" y2="199.30" stroke="#d20000" stroke-width="3.8" stroke-dasharray="14 6 3.7 6" stroke-dashoffset="0.00"/>
<line x1="701.60" y1="199.30" x2="726.00" y2="193.00" stroke="#d20000" stroke-width="3.8" stroke-dasharray="14 6 3.7 6" stroke-dashoffset="0.00"/>
<line x1="726.00" y1="193.00" x2="746.50" y2="206.10" stroke="#d20000" stroke-width="3.8" stroke-dasharray="14 6 3.7 6" stroke-dashoffset="0.00"/>
<line x1="746.50" y1="206.10" x2="753.75" y2="221.35" stroke="#d20000" stroke-width="3.8" stroke-dasharray="14 6 3.7 6" stroke-dashoffset="0.00"/>
<line x1="753.75" y1="221.35" x2="761.00" y2="236.60" stroke="#d20000" stroke-width="3.8" stroke-dasharray="14 6 3.7 6" stroke-dashoffset="0.00"/>
<line x1="761.00" y1="236.60" x2="768.85" y2="253.20" stroke="#d20000" stroke-width="3.8" stroke-dasharray="14 6 3.7 6" stroke-dashoffset="0.00"/>
<line x1="768.85" y1="253.20" x2="776.70" y2="269.80" stroke="#d20000" stroke-width="3.8" stroke-dasharray="14 6 3.7 6" stroke-dashoffset="0.00"/>
<line x1="776.70" y1="269.80" x2="784.10" y2="289.20" stroke="#d20000" stroke-width="3.8" stroke-dasharray="14 6 3.7 6" stroke-dashoffset="0.00"/>
<line x1="784.10" y1="289.20" x2="791.50" y2="308.60" stroke="#d20000" stroke-width="3.8" stroke-dasharray="14 6 3.7 6" stroke-dashoffset="0.00"/>
<line x1="791.50" y1="308.60" x2="798.90" y2="332.15" stroke="#d20000" stroke-width="3.8" stroke-dasharray="14 6 3.7 6" stroke-dashoffset="0.00"/>
<line x1="798.90" y1="332.15" x2="806.30" y2="355.70" stroke="#d20000" stroke-width="3.8" stroke-dasharray="14 6 3.7 6" stroke-dashoffset="0.00"/>
<line x1="806.30" y1="355.70" x2="812.30" y2="430.00" stroke="#d20000" stroke-width="3.8" stroke-dasharray="14 6 3.7 6" stroke-dashoffset="0.00"/>
<line x1="812.30" y1="430.00" x2="815.10" y2="472.00" stroke="#d20000" stroke-width="3.8" stroke-dasharray="14 6 3.7 6" stroke-dashoffset="74.54"/>
<line x1="815.10" y1="472.00" x2="819.20" y2="533.50" stroke="#d20000" stroke-width="3.8" stroke-dasharray="14 6 3.7 6" stroke-dashoffset="116.64"/>
<line x1="819.20" y1="533.50" x2="821.90" y2="566.00" stroke="#d20000" stroke-width="3.8" stroke-dasharray="14 6 3.7 6" stroke-dashoffset="178.27"/>
<line x1="821.90" y1="566.00" x2="837.00" y2="534.20" stroke="#d20000" stroke-width="3.8" stroke-dasharray="14 6 3.7 6" stroke-dashoffset="210.88"/>
<rect x="152.30" y="701.50" width="12.80" height="12.80" fill="#d20000"/>
<rect x="189.80" y="727.40" width="12.80" height="12.80" fill="#d20000"/>
<rect x="227.80" y="724.00" width="12.80" height="12.80" fill="#d20000"/>
<rect x="272.50" y="711.30" width="12.80" height="12.80" fill="#d20000"/>
<rect x="318.30" y="693.50" width="12.80" height="12.80" fill="#d20000"/>
<rect x="363.50" y="667.60" width="12.80" height="12.80" fill="#d20000"/>
<rect x="393.80" y="643.60" width="12.80" height="12.80" fill="#d20000"/>
<rect x="423.50" y="612.80" width="12.80" height="12.80" fill="#d20000"/>
<rect x="453.60" y="575.60" width="12.80" height="12.80" fill="#d20000"/>
<rect x="484.10" y="534.20" width="12.80" height="12.80" fill="#d20000"/>
<rect x="514.40" y="489.20" width="12.80" height="12.80" fill="#d20000"/>
<rect x="544.80" y="438.60" width="12.80" height="12.80" fill="#d20000"/>
<rect x="574.40" y="385.40" width="12.80" height="12.80" fill="#d20000"/>
<rect x="604.60" y="327.20" width="12.80" height="12.80" fill="#d20000"/>
<rect x="634.50" y="274.50" width="12.80" height="12.80" fill="#d20000"/>
<rect x="665.00" y="224.90" width="12.80" height="12.80" fill="#d20000"/>
<rect x="695.20" y="192.90" width="12.80" height="12.80" fill="#d20000"/>
<rect x="740.10" y="199.70" width="12.80" height="12.80" fill="#d20000"/>
<rect x="770.30" y="263.40" width="12.80" height="12.80" fill="#d20000"/>
<rect x="785.10" y="302.20" width="12.80" height="12.80" fill="#d20000"/>
<rect x="799.90" y="349.30" width="12.80" height="12.80" fill="#d20000"/>
<rect x="815.50" y="559.60" width="12.80" height="12.80" fill="#d20000"/>
<rect x="830.60" y="527.80" width="12.80" height="12.80" fill="#d20000"/>
</g>
<g>
<line x1="157.9" y1="63" x2="157.9" y2="777.4" stroke="#000" stroke-width="3.5"/>
<polygon points="157.8,53.6 152.2,64.6 163.4,64.6" fill="#000"/>
<line x1="156.2" y1="775.7" x2="932" y2="775.7" stroke="#000" stroke-width="3.4"/>
<polygon points="941.8,775.7 930.6,770.1 930.6,781.3" fill="#000"/>
</g>
<g>
<text x="144.25" y="151.00" font-size="33" text-anchor="end">0.20</text>
<text x="144.25" y="310.85" font-size="33" text-anchor="end">0.15</text>
<text x="144.25" y="469.00" font-size="33" text-anchor="end">0.10</text>
<text x="144.25" y="627.35" font-size="33" text-anchor="end">0.05</text>
<text x="135.8" y="815" font-size="33" text-anchor="middle">0</text>
<text x="277.40" y="815" font-size="33" text-anchor="middle">0.02</text>
<text x="392.25" y="815" font-size="33" text-anchor="middle">0.04</text>
<text x="506.45" y="815" font-size="33" text-anchor="middle">0.06</text>
<text x="625.40" y="815" font-size="33" text-anchor="middle">0.08</text>
<text x="739.70" y="815" font-size="33" text-anchor="middle">0.10</text>
<text x="854.95" y="815" font-size="33" text-anchor="middle">0.12</text>
<text transform="matrix(0.9210,0,-0.1459,0.9964,-0.80,428.60)" font-size="40" font-style="italic" fill="#000" stroke="#000" stroke-width="0.4">W</text>
<text transform="translate(34.56,428.50) scale(0.6314,1.0277)" font-size="40" font-style="italic" fill="#000" stroke="#000" stroke-width="0.9">/</text>
<text transform="translate(46.27,428.90) scale(1.0980,0.9090)" font-size="40" font-style="italic" fill="#000" stroke="#000" stroke-width="0.4">λ</text>
<text transform="translate(541.28,857.12) scale(1.0513,0.9600)" font-size="40" font-style="italic" fill="#000" stroke="#000" stroke-width="0.9">τ</text>
</g>
<g>
<line x1="228.6" y1="17.1" x2="375.6" y2="17.1" stroke="#555555" stroke-width="3.9" stroke-dasharray="18 9.3 3.2 8.4"/>
<polygon points="301.30,5.95 312.50,17.15 301.30,28.35 290.10,17.15" fill="#555555"/>
<text transform="translate(383.77,29.30) scale(0.8089,0.8094)" font-size="40" font-style="italic" fill="#000">R</text>
<text x="404.7" y="40.3" font-size="24.2" font-style="italic">ext</text>
<text transform="translate(440.66,27.50) scale(0.9241,0.7000)" font-size="40" fill="#000">=</text>
<text transform="translate(471.23,28.99) scale(0.8560,0.7947)" font-size="40" fill="#000">π</text>
<text transform="translate(491.47,29.30) scale(0.8047,0.8094)" font-size="40" font-style="italic" fill="#000">R</text>
<text transform="translate(511.67,40.06) scale(0.6135,0.6076)" font-size="40" fill="#000">0</text>
<line x1="228.6" y1="65.6" x2="375.6" y2="65.6" stroke="#2a2aff" stroke-width="3.9" stroke-dasharray="18 9.3 3.2 8.4"/>
<polygon points="301.35,54.53 311.75,72.33 290.95,72.33" fill="#2a2aff"/>
<text transform="translate(383.77,77.50) scale(0.8089,0.8094)" font-size="40" font-style="italic" fill="#000">R</text>
<text x="404.7" y="88.5" font-size="24.2" font-style="italic">ext</text>
<text transform="translate(440.66,75.37) scale(0.9241,0.6600)" font-size="40" fill="#000">=</text>
<text transform="translate(468.31,77.50) scale(0.8481,0.8005)" font-size="40" fill="#000">2</text>
<text transform="translate(489.01,77.19) scale(0.7142,0.7893)" font-size="40" fill="#000">π</text>
<text transform="translate(508.57,77.50) scale(0.7797,0.8094)" font-size="40" font-style="italic" fill="#000">R</text>
<text transform="translate(528.42,88.08) scale(0.5781,0.5742)" font-size="40" fill="#000">0</text>
<line x1="228.6" y1="116.3" x2="375.6" y2="116.3" stroke="#00d200" stroke-width="3.9" stroke-dasharray="18 9.3 3.2 8.4"/>
<ellipse cx="301.15" cy="116.15" rx="8.9" ry="9.6" fill="#00d200"/>
<text transform="translate(383.77,124.90) scale(0.8089,0.8094)" font-size="40" font-style="italic" fill="#000">R</text>
<text x="404.7" y="135.9" font-size="24.2" font-style="italic">ext</text>
<text transform="translate(440.66,123.37) scale(0.9241,0.6600)" font-size="40" fill="#000">=</text>
<text transform="translate(469.20,124.90) scale(0.7637,0.8052)" font-size="40" fill="#000">4</text>
<text transform="translate(489.01,124.60) scale(0.7142,0.7573)" font-size="40" fill="#000">π</text>
<text transform="translate(508.57,124.90) scale(0.7797,0.8094)" font-size="40" font-style="italic" fill="#000">R</text>
<text transform="translate(528.42,136.07) scale(0.5781,0.5965)" font-size="40" fill="#000">0</text>
<line x1="228.6" y1="170.3" x2="375.6" y2="170.3" stroke="#d20000" stroke-width="3.9" stroke-dasharray="18 9.3 3.2 8.4"/>
<rect x="293.15" y="162.30" width="15.70" height="15.70" fill="#d20000"/>
<text transform="translate(383.77,179.70) scale(0.8089,0.8438)" font-size="40" font-style="italic" fill="#000">R</text>
<text x="404.7" y="190.7" font-size="24.2" font-style="italic">ext</text>
<text transform="translate(440.66,177.13) scale(0.9241,0.6200)" font-size="40" fill="#000">=</text>
<text transform="translate(469.89,179.38) scale(0.7314,0.8188)" font-size="40" fill="#000">8</text>
<text transform="translate(489.01,179.39) scale(0.7142,0.8053)" font-size="40" fill="#000">π</text>
<text transform="translate(508.57,179.70) scale(0.7797,0.8438)" font-size="40" font-style="italic" fill="#000">R</text>
<text transform="translate(528.42,190.56) scale(0.5781,0.6187)" font-size="40" fill="#000">0</text>
</g>
</svg>
</body></html>
